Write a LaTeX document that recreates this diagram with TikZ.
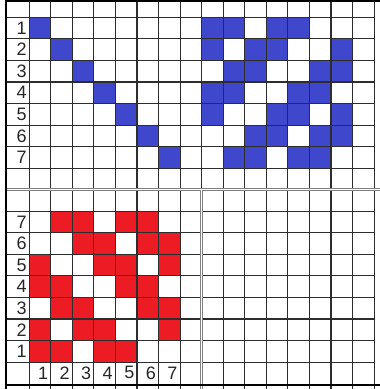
\documentclass[tikz,border=0pt]{standalone}
\usepackage{fontspec}
\setmainfont{Liberation Sans}
\definecolor{paintblue}{RGB}{63,72,204}
\definecolor{paintred}{RGB}{237,28,36}
\definecolor{gridgray}{RGB}{45,45,45}
\begin{document}
\begin{tikzpicture}[x=21.55pt, y=-21.55pt,
  gridline/.style={gridgray, line width=1.1pt},
  sepline/.style={gray, double=white, double distance=0.8pt, line width=0.9pt},
  bluecell/.style={fill=paintblue},
  redcell/.style={fill=paintred},
  num/.style={anchor=east, inner sep=0pt, text=black!85, font=\fontsize{18}{18}\selectfont}]
  \useasboundingbox (-1.3596,-0.8028) rectangle (16.2738,17.2483);

  % Threading (diagonal)
  \foreach \i in {0,...,6}
    \fill[bluecell] (\i,\i) rectangle ++(1,1);

  % Upper right pattern
  \foreach \r/\cols in {0/{0,1,3,4}, 1/{0,2,3,6}, 2/{1,2,5,6}, 3/{0,1,4,5},
                        4/{0,3,4,6}, 5/{2,3,5,6}, 6/{1,2,4,5}}
    \foreach \c in \cols
      \fill[bluecell] (8+\c,\r) rectangle ++(1,1);

  % Lower left pattern (rows labelled 7 down to 1)
  \foreach \L/\cols in {7/{2,3,5,6}, 6/{3,4,6,7}, 5/{1,4,5,7}, 4/{1,2,5,6},
                        3/{2,3,6,7}, 2/{1,3,4,7}, 1/{1,2,4,5}}
    \foreach \n in \cols
      \fill[redcell] (\n-1,16-\L) rectangle ++(1,1);

  % Grid
  \foreach \j in {0,...,7,9,10,...,16}
    \draw[gridline] (-1.05,\j) -- (16.05,\j);
  \foreach \k in {0,...,7,9,10,...,16}
    \draw[gridline] (\k,-0.75) -- (\k,17.25);
  \draw[gridline] (8,-0.75) -- (8,8);

  % Separators
  \draw[sepline] (-1.05,8) -- (16.27,8);
  \draw[sepline] (8,8) -- (8,17.25);

  % Borders
  \fill[black] (-1.13,-0.8028) rectangle (16.27,-0.72);
  \fill[black] (-1.13,-0.8028) rectangle (-1.05,17.25);
  \fill[black] (-1.13,17) rectangle (16.27,17.13);

  % Row and column numbers
  \foreach \n in {1,...,7} {
    \node[num] (rowtop\n) at (-0.12,\n-0.5) {\n};
    \node[num] (rowbot\n) at (-0.12,16.5-\n) {\n};
    \node[num] (colbot\n) at (\n-0.12,16.5) {\n};
  }

\end{tikzpicture}
\end{document}
